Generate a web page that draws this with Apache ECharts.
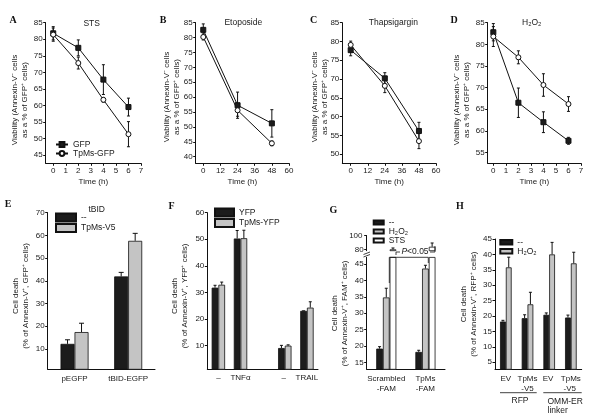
<!DOCTYPE html>
<html><head><meta charset="utf-8">
<script src="https://cdn.jsdelivr.net/npm/echarts@6/dist/echarts.min.js"></script>
<style>html,body{margin:0;padding:0;background:#fff}#c{width:600px;height:418px}</style>
</head><body><div id="c"></div>
<script>
// ---------- DATA ----------
// Panels A and D: time in hours
const timeHours = [0, 2, 4, 6];
// Panels B and C: time in hours
const timeLong = [0, 24, 48];
// A: STS
const stsGFP = [81.8, 77.4, 67.8, 59.5];
const stsGFPErr = [2.0, 2.4, 4.5, 2.7];
const stsTpMs = [81.4, 72.8, 61.7, 51.3];
const stsTpMsErr = [2.0, 1.8, 0.7, 3.8];
// B: Etoposide
const etoGFP = [82.6, 57.3, 51.2];
const etoGFPErr = [2.0, 4.4, 4.6];
const etoTpMs = [80.2, 55.6, 44.5];
const etoTpMsErr = [1.0, 2.0, 0.8];
// C: Thapsigargin
const thapGFP = [77.7, 70.2, 56.2];
const thapGFPErr = [1.5, 1.5, 2.3];
const thapTpMs = [79.1, 68.2, 53.5];
const thapTpMsErr = [1.0, 1.8, 2.0];
// D: H2O2
const hpGFP = [82.8, 66.5, 62.0, 57.7];
const hpGFPErr = [2.0, 3.4, 2.4, 0.8];
const hpTpMs = [81.8, 77.0, 70.6, 66.2];
const hpTpMsErr = [2.3, 1.5, 2.6, 1.7];
// E: tBID
const eCats = ['pEGFP', 'tBID-EGFP'];
const eCtrl = [12.2, 41.9];
const eCtrlErr = [1.8, 1.8];
const eTpMs = [17.4, 57.6];
const eTpMsErr = [3.9, 3.3];
// F: YFP
const fCats = ['–', 'TNFα', '', '– ', 'TRAIL'];
const fYFP = [31.8, 50.3, null, 9.1, 23.1];
const fYFPErr = [0.9, 3.0, null, 1.0, 0.0];
const fTpMs = [32.9, 50.4, null, 10.0, 24.3];
const fTpMsErr = [1.0, 3.0, null, 0.3, 2.2];
// G: FAM peptides
const gCats = ['Scrambled\n-FAM', 'TpMs\n-FAM'];
const gCtrl = [19.2, 18.2];
const gCtrlErr = [0.6, 0.5];
const gH2O2 = [34.8, 43.6];
const gH2O2Err = [2.8, 1.0];
const gSTS = [80.0, 83.8];
const gSTSErr = [2.0, 5.5];
// H: RFP / OMM-ER linker
const hCats = ['EV', 'TpMs\n-V5', 'EV ', 'TpMs\n-V5 '];
const hCtrl = [18.2, 19.3, 20.4, 19.5];
const hCtrlErr = [0.4, 1.1, 0.6, 0.8];
const hH2O2 = [35.8, 23.8, 40.0, 37.1];
const hH2O2Err = [3.3, 3.9, 3.9, 3.6];
// tick labels
const ticksA = [45, 50, 55, 60, 65, 70, 75, 80, 85];
const ticksB = [40, 45, 50, 55, 60, 65, 70, 75, 80, 85];
const ticksC = [50, 55, 60, 65, 70, 75, 80, 85];
const ticksD = [55, 60, 65, 70, 75, 80, 85];
const ticksHoursX = [0, 1, 2, 3, 4, 5, 6, 7];
const ticksLongX = [0, 12, 24, 36, 48, 60];
const ticksE = [10, 20, 30, 40, 50, 60, 70];
const ticksF = [10, 20, 30, 40, 50, 60];
const ticksGLow = [15, 20, 25, 30, 35, 40, 45];
const ticksGHigh = [80, 100];
const ticksH = [5, 10, 15, 20, 25, 30, 35, 40, 45];

// ---------- STYLE ----------
const FONT = '"Liberation Sans", Arial, sans-serif';
const TXT = '#1a1a1a';
const BLACK = '#1c1c1c';
const GRAY = '#c4c4c4';
const FS = 8;

const chart = echarts.init(document.getElementById('c'), null, {renderer: 'canvas'});

function grid(l, t, w, h) {
  return {left: l, top: t, width: w, height: h, containLabel: false, outerBoundsMode: 'none'};
}
function valAxis(gi, min, max, ticks, extra, labelTicks) {
  return Object.assign({
    type: 'value', gridIndex: gi, min: min, max: max,
    axisLine: {show: true, onZero: false, lineStyle: {color: '#111', width: 1}},
    axisTick: {show: true, length: 2.5, customValues: ticks, lineStyle: {color: '#111'}},
    axisLabel: {customValues: labelTicks || ticks, fontSize: FS, color: TXT, fontFamily: FONT, margin: 3,
      showMinLabel: true, showMaxLabel: true, hideOverlap: false},
    splitLine: {show: false}
  }, extra || {});
}
function catAxis(gi, cats, extra) {
  return Object.assign({
    type: 'category', gridIndex: gi, data: cats,
    axisLine: {show: true, onZero: false, lineStyle: {color: '#111', width: 1}},
    axisTick: {show: false},
    axisLabel: {fontSize: FS, color: TXT, fontFamily: FONT, margin: 4, lineHeight: 10, interval: 0},
    splitLine: {show: false}
  }, extra || {});
}
function yName(text, gap, pad) {
  return {name: text, nameLocation: 'middle', nameRotate: 90, nameGap: gap, nameMoveOverlap: false,
    nameTextStyle: {fontSize: FS, color: TXT, fontFamily: FONT, lineHeight: 10, padding: pad || 0}};
}
function xName(text, gap) {
  return {name: text, nameLocation: 'middle', nameGap: gap,
    nameTextStyle: {fontSize: FS, color: TXT, fontFamily: FONT}};
}
function lineSeries(name, gi, xs, ys, filled) {
  return {type: 'line', name: name, xAxisIndex: gi, yAxisIndex: gi,
    data: xs.map((x, i) => [x, ys[i]]),
    symbol: filled ? 'rect' : 'circle', symbolSize: 5,
    color: filled ? BLACK : '#fff',
    lineStyle: {color: '#111', width: 1},
    itemStyle: {color: filled ? BLACK : '#fff', borderColor: '#111', borderWidth: 1},
    z: 4, animation: false, silent: true};
}
function errSeries(gi, xs, ys, es, offset, cap, both) {
  const data = [];
  xs.forEach((x, i) => { if (ys[i] != null && es[i] != null) data.push([x, ys[i], es[i]]); });
  return {type: 'custom', xAxisIndex: gi, yAxisIndex: gi, silent: true, z: 3, animation: false,
    data: data, encode: {x: 0, y: 1}, clip: false,
    renderItem: function (params, api) {
      const x = api.value(0), y = api.value(1), e = api.value(2);
      const c = api.coord([x, y]);
      const t = api.coord([x, y + e]);
      const b = api.coord([x, y - e]);
      const px = c[0] + offset;
      const hw = cap / 2;
      const st = {stroke: '#111', lineWidth: 1};
      const ch = [
        {type: 'line', shape: {x1: px, y1: both ? b[1] : c[1], x2: px, y2: t[1]}, style: st},
        {type: 'line', shape: {x1: px - hw, y1: t[1], x2: px + hw, y2: t[1]}, style: st}
      ];
      if (both) ch.push({type: 'line', shape: {x1: px - hw, y1: b[1], x2: px + hw, y2: b[1]}, style: st});
      return {type: 'group', children: ch};
    }};
}
function barSeries(name, gi, vals, color, w) {
  return {type: 'bar', name: name, xAxisIndex: gi, yAxisIndex: gi,
    data: vals.map(v => v == null ? '-' : v),
    barWidth: w, barGap: '0%', color: color,
    itemStyle: {color: color, borderColor: '#111', borderWidth: 0.8},
    animation: false, silent: true, z: 2};
}
function catIdx(cats) { return cats.map((c, i) => i); }

const grids = [
  grid(45.7, 22.7, 95.3, 140.6),   // 0 A
  grid(195.7, 22.7, 93.3, 140.6),  // 1 B
  grid(342.3, 22.7, 93.7, 140.6),  // 2 C
  grid(487.7, 22.7, 93.3, 140.6),  // 3 D
  grid(47.7, 212.7, 107.3, 156.6), // 4 E
  grid(207.3, 212.7, 110.7, 156.6),// 5 F
  grid(366.7, 257.4, 78.3, 111.9), // 6 G lower
  grid(495, 239, 86.7, 130.3),     // 7 H
  grid(366.7, 235.5, 78.3, 15.2)   // 8 G upper
];

const vName = 'Viability (Annexin-V\u207B cells\nas a % of GFP\u207A cells)';
const xAxes = [
  valAxis(0, -0.6, 7, ticksHoursX, xName('Time (h)', 14)),
  valAxis(1, -5.3, 60, ticksLongX, xName('Time (h)', 14)),
  valAxis(2, -5.9, 60, ticksLongX, xName('Time (h)', 14)),
  valAxis(3, -0.45, 7, ticksHoursX, xName('Time (h)', 14)),
  catAxis(4, eCats),
  catAxis(5, fCats, {axisLabel: {fontSize: FS, color: TXT, fontFamily: FONT, margin: 4, interval: 0}}),
  catAxis(6, gCats),
  catAxis(7, hCats),
  catAxis(8, gCats, {show: false})
];
const yAxes = [
  valAxis(0, 42.5, 85, ticksA, yName(vName, 16, [0, 14, 0, 0])),
  valAxis(1, 37.8, 85, ticksB, yName(vName, 14, [0, 8, 0, 0])),
  valAxis(2, 47.6, 85, ticksC, yName(vName, 13, [0, 8, 0, 0])),
  valAxis(3, 52.5, 85, ticksD, yName(vName, 16, [0, 14, 0, 0])),
  valAxis(4, 1, 70, ticksE, yName('Cell death\n(% of Annexin-V\u207A, GFP\u207A cells)', 17, [0, 10, 0, 0])),
  valAxis(5, 1.1, 60, ticksF, yName('Cell death\n(% of Annexin-V\u207A, YFP\u207A cells)', 18, [0, 10, 0, 0])),
  valAxis(6, 12.9, 47, ticksGLow, yName('Cell death\n(% of Annexin-V\u207A, FAM\u207A cells)', 17)),
  valAxis(7, 2.7, 45, ticksH, yName('Cell death\n(% of Annexin-V\u207A, RFP\u207A cells)', 16)),
  valAxis(8, 78, 100.3, ticksGHigh, null, [ticksGHigh[0]])
];

const series = [
  // A
  lineSeries('GFP', 0, timeHours, stsGFP, true),
  lineSeries('TpMs-GFP', 0, timeHours, stsTpMs, false),
  errSeries(0, timeHours, stsGFP, stsGFPErr, 0, 3, true),
  errSeries(0, timeHours, stsTpMs, stsTpMsErr, 0, 3, true),
  // B
  lineSeries('GFP', 1, timeLong, etoGFP, true),
  lineSeries('TpMs-GFP', 1, timeLong, etoTpMs, false),
  errSeries(1, timeLong, etoGFP, etoGFPErr, 0, 3, true),
  errSeries(1, timeLong, etoTpMs, etoTpMsErr, 0, 3, true),
  // C
  lineSeries('GFP', 2, timeLong, thapGFP, true),
  lineSeries('TpMs-GFP', 2, timeLong, thapTpMs, false),
  errSeries(2, timeLong, thapGFP, thapGFPErr, 0, 3, true),
  errSeries(2, timeLong, thapTpMs, thapTpMsErr, 0, 3, true),
  // D
  lineSeries('GFP', 3, timeHours, hpGFP, true),
  lineSeries('TpMs-GFP', 3, timeHours, hpTpMs, false),
  errSeries(3, timeHours, hpGFP, hpGFPErr, 0, 3, true),
  errSeries(3, timeHours, hpTpMs, hpTpMsErr, 0, 3, true),
  // E
  barSeries('--', 4, eCtrl, BLACK, 14),
  barSeries('TpMs-V5', 4, eTpMs, GRAY, 14),
  errSeries(4, catIdx(eCats), eCtrl, eCtrlErr, -7, 5, false),
  errSeries(4, catIdx(eCats), eTpMs, eTpMsErr, 7, 5, false),
  // F
  barSeries('YFP', 5, fYFP, BLACK, 6.7),
  barSeries('TpMs-YFP', 5, fTpMs, GRAY, 6.7),
  errSeries(5, catIdx(fCats), fYFP, fYFPErr, -3.35, 3, false),
  errSeries(5, catIdx(fCats), fTpMs, fTpMsErr, 3.35, 3, false),
  // G lower
  barSeries('--', 6, gCtrl, BLACK, 6.7),
  barSeries('H\u2082O\u2082', 6, gH2O2, GRAY, 6.7),
  barSeries('STS', 6, gSTS, '#ffffff', 6.7),
  errSeries(6, catIdx(gCats), gCtrl, gCtrlErr, -6.7, 3, false),
  errSeries(6, catIdx(gCats), gH2O2, gH2O2Err, 0, 3, false),
  // G upper
  barSeries('g-up-ctrl', 8, gCtrl.map(() => null), BLACK, 6.7),
  barSeries('g-up-h2o2', 8, gH2O2.map(() => null), GRAY, 6.7),
  barSeries('g-up-sts', 8, gSTS, '#ffffff', 6.7),
  errSeries(8, catIdx(gCats), gSTS, gSTSErr, 6.7, 3, false),
  // H
  barSeries('--', 7, hCtrl, BLACK, 5.8),
  barSeries('H\u2082O\u2082', 7, hH2O2, GRAY, 5.8),
  errSeries(7, catIdx(hCats), hCtrl, hCtrlErr, -2.9, 3, false),
  errSeries(7, catIdx(hCats), hH2O2, hH2O2Err, 2.9, 3, false)
];

function legend(names, left, top, iw, ih, lh, gap, icon) {
  const o = {data: names, left: left, top: top, orient: 'vertical', padding: 0,
    itemWidth: iw, itemHeight: ih, itemGap: gap, selectedMode: false,
    textStyle: {fontSize: 8.5, color: TXT, fontFamily: FONT, lineHeight: lh}};
  if (icon) o.icon = icon;
  return o;
}
const legends = [
  legend(['GFP', 'TpMs-GFP'], 55, 140, 12, 6, 8, 0),
  legend(['--', 'TpMs-V5'], 55, 212.5, 20, 8, 10, 0.5, 'rect'),
  legend(['YFP', 'TpMs-YFP'], 214, 207.5, 19, 8, 10, 0.5, 'rect'),
  legend(['--', 'H\u2082O\u2082', 'STS'], 372.7, 218, 10, 4, 8, 0, 'rect'),
  legend(['--', 'H\u2082O\u2082'], 499.3, 237.8, 12, 4.5, 7.5, 0, 'rect')
];

function txt(x, y, s, o) {
  return {type: 'text', x: x, y: y, silent: true, z: 100, style: Object.assign({
    text: s, fontSize: 8.5, fontFamily: FONT, fill: TXT, align: 'center', verticalAlign: 'middle'}, o || {})};
}
function letter(x, y, s) {
  return txt(x, y, s, {fontSize: 10, fontWeight: 'bold', fontFamily: '"Liberation Serif", serif', fill: '#111'});
}
function ln(x1, y1, x2, y2) {
  return {type: 'line', silent: true, z: 100, shape: {x1: x1, y1: y1, x2: x2, y2: y2}, style: {stroke: '#111', lineWidth: 0.8}};
}
const graphics = [
  letter(13, 20, 'A'), letter(163, 20, 'B'), letter(313.5, 20, 'C'), letter(454, 20, 'D'),
  letter(8, 204.5, 'E'), letter(171.5, 206.5, 'F'), letter(333.5, 210, 'G'), letter(460, 206.5, 'H'),
  txt(91.7, 23.3, 'STS'), txt(243.3, 23, 'Etoposide'), txt(393.3, 23, 'Thapsigargin'), txt(531.7, 22.5, 'H\u2082O\u2082'),
  txt(96.7, 210, 'tBID'),
  // G upper axis top tick label
  txt(362.5, 236, String(ticksGHigh[1]), {fontSize: FS, align: 'right'}),
  // H grouping
  ln(500, 392.7, 536.7, 392.7), txt(520, 400.5, 'RFP'),
  ln(543.3, 392.7, 581.7, 392.7), txt(547.5, 402, 'OMM-ER', {align: 'left'}), txt(547.5, 411, 'linker', {align: 'left'}),
  // G axis break marks
  ln(363.5, 254.5, 370, 252), ln(363.5, 257, 370, 254.5),
  // G significance brackets
  ln(389.3, 283, 389.3, 257.3), ln(389.3, 257.3, 428.3, 257.3), ln(428.3, 257.3, 428.3, 263),
  ln(396, 252, 400, 252), ln(396, 252, 396, 255),
  txt(415, 251.7, '{i|P}<0.05', {fontSize: 8.5, rich: {i: {fontStyle: 'italic', fontSize: 8.5, fontFamily: FONT, fill: TXT}}}),
  ln(430, 252, 435, 252), ln(435, 252, 435, 246)
];

chart.setOption({
  animation: false,
  backgroundColor: '#fff',
  textStyle: {fontFamily: FONT},
  grid: grids,
  xAxis: xAxes,
  yAxis: yAxes,
  legend: legends,
  series: series,
  graphic: graphics
});
</script></body></html>
